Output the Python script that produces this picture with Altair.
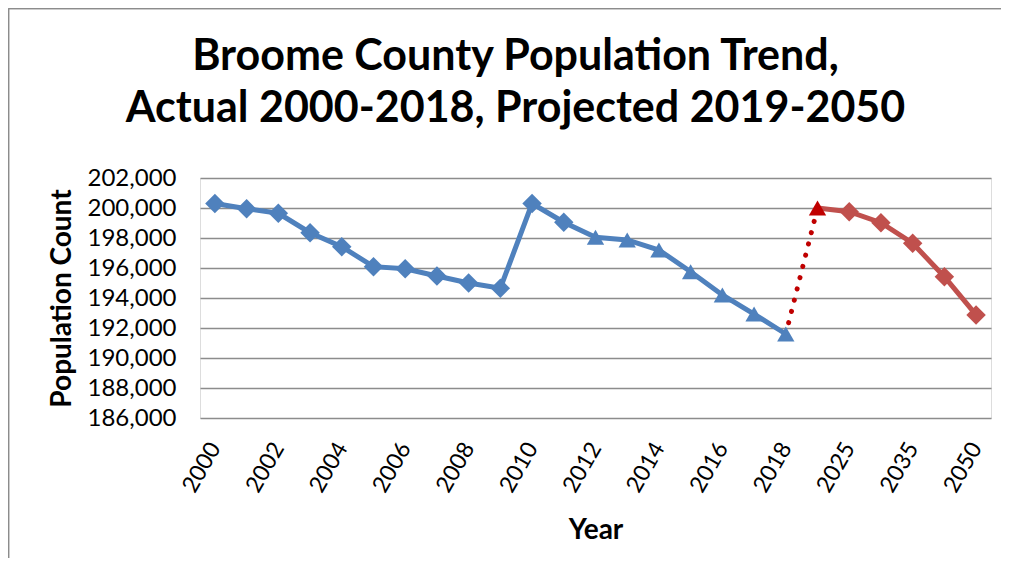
import altair as alt
import pandas as pd

# ---- data ----
actual_years = ["2000", "2001", "2002", "2003", "2004", "2005", "2006", "2007", "2008", "2009",
                "2010", "2011", "2012", "2013", "2014", "2015", "2016", "2017", "2018"]
actual_pop = [200300, 199950, 199650, 198350, 197420, 196090, 195950, 195470, 195000, 194650,
              200300, 199050, 198050, 197870, 197200, 195750, 194200, 192930, 191600]
actual_shape = ["diamond"] * 12 + ["triangle-up"] * 7

proj_years = ["2020", "2025", "2030", "2035", "2040", "2050"]
proj_pop = [200000, 199750, 199020, 197650, 195420, 192870]
proj_shape = ["triangle-up", "diamond", "diamond", "diamond", "diamond", "diamond"]
proj_color = ["#C00000", "#C0504D", "#C0504D", "#C0504D", "#C0504D", "#C0504D"]

all_years = actual_years + proj_years
tick_years = ["2000", "2002", "2004", "2006", "2008", "2010", "2012", "2014", "2016", "2018",
              "2025", "2035", "2050"]
y_ticks = [186000, 188000, 190000, 192000, 194000, 196000, 198000, 200000, 202000]

FONT = "Lato"
SHAPE_SIZE = {"diamond": 380, "triangle-up": 300}

actual_df = pd.DataFrame({"year": actual_years, "pop": actual_pop, "shape": actual_shape})
actual_df["size"] = actual_df["shape"].map(SHAPE_SIZE)
proj_df = pd.DataFrame({"year": proj_years, "pop": proj_pop, "shape": proj_shape, "color": proj_color})
proj_df["size"] = proj_df["shape"].map(SHAPE_SIZE)
bridge_df = pd.DataFrame({"year": [actual_years[-1], proj_years[0]], "pop": [actual_pop[-1], proj_pop[0]]})

x_enc = alt.X("year:N", sort=all_years,
              scale=alt.Scale(type="point", domain=all_years, padding=0.47),
              axis=alt.Axis(values=tick_years, title="Year", labelAngle=300, labelAlign="right",
                            labelBaseline="middle", labelPadding=26, labelFontSize=23,
                            labelFont=FONT, titleFont=FONT, labelColor="black", titleColor="black",
                            titleFontSize=28, titleFontWeight="bold", titlePadding=20,
                            domain=False, ticks=False, grid=False))
y_enc = alt.Y("pop:Q",
              scale=alt.Scale(domain=[186000, 202000], nice=False, zero=False),
              axis=alt.Axis(values=y_ticks, format=",.0f", title="Population Count",
                            labelFont=FONT, titleFont=FONT, labelColor="black", titleColor="black",
                            labelFontSize=24, labelPadding=24, titleFontSize=28,
                            titleFontWeight="bold", titlePadding=11,
                            domain=False, ticks=False, grid=True, gridColor="#8C8C8C",
                            gridWidth=1.4))

blue_line = alt.Chart(actual_df).mark_line(color="#4F81BD", strokeWidth=5).encode(x=x_enc, y=y_enc)
bridge = alt.Chart(bridge_df).mark_line(color="#C00000", strokeWidth=5, strokeDash=[0.1, 11.5],
                                         strokeCap="round").encode(x=x_enc, y=y_enc)
red_line = alt.Chart(proj_df).mark_line(color="#C0504D", strokeWidth=5).encode(x=x_enc, y=y_enc)
blue_pts = alt.Chart(actual_df).mark_point(filled=True, opacity=1, color="#4F81BD").encode(
    x=x_enc, y=y_enc,
    shape=alt.Shape("shape:N", scale=None),
    size=alt.Size("size:Q", scale=None))
red_pts = alt.Chart(proj_df).mark_point(filled=True, opacity=1).encode(
    x=x_enc, y=y_enc,
    shape=alt.Shape("shape:N", scale=None),
    size=alt.Size("size:Q", scale=None),
    color=alt.Color("color:N", scale=None))

border_v = alt.Chart(bridge_df).mark_rule(color="#8C8C8C", strokeWidth=1.5).encode(
    x=alt.value(-191.5), y=alt.value(-169.5), y2=alt.value(400))
border_h = alt.Chart(bridge_df).mark_rule(color="#8C8C8C", strokeWidth=1.5).encode(
    x=alt.value(-191.5), x2=alt.value(830), y=alt.value(-169.5))

chart = alt.layer(border_v, border_h, blue_line, bridge, red_line, blue_pts, red_pts).properties(
    width=791, height=240,
    autosize=alt.AutoSizeParams(type="none"),
    padding={"left": 192, "top": 170, "right": 10, "bottom": 140},
    title=alt.TitleParams(
        text=["Broome County Population Trend,", "Actual 2000-2018, Projected 2019-2050"],
        fontSize=43, fontWeight="bold", font=FONT, color="black", anchor="middle",
        frame="group", dx=-80, offset=-123, lineHeight=52),
).configure_view(stroke=None).configure(background="white")

chart.save("out.html", embed_options={"renderer": "svg", "actions": False})
